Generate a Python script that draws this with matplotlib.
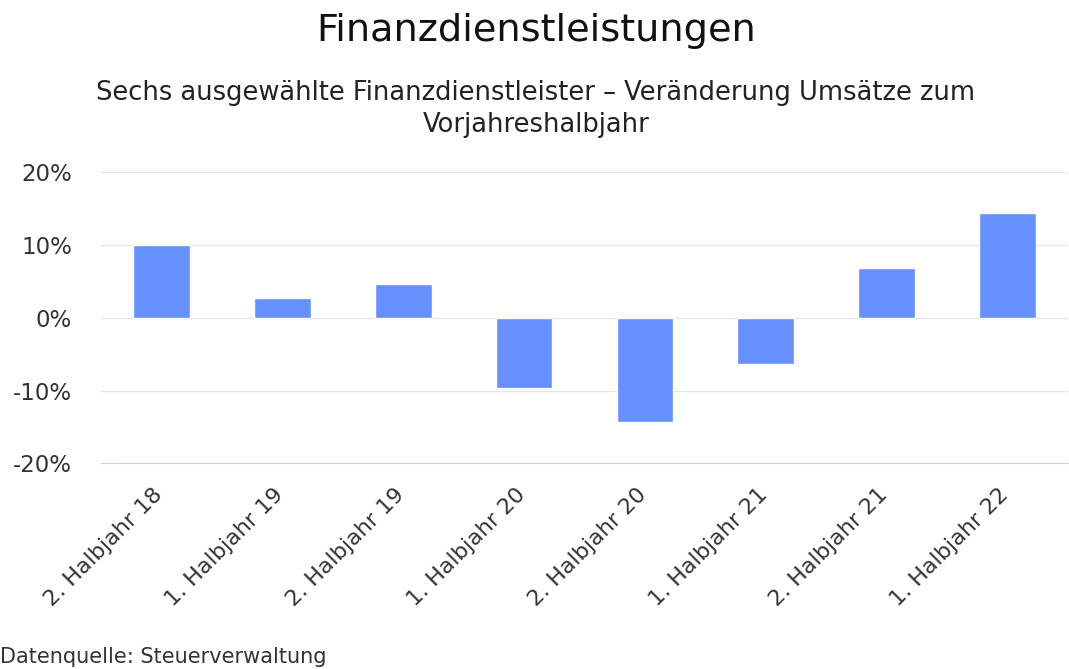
import matplotlib
matplotlib.use("Agg")
import matplotlib.pyplot as plt
from matplotlib.ticker import FuncFormatter
import matplotlib.transforms as mtransforms

categories = ["2. Halbjahr 18", "1. Halbjahr 19", "2. Halbjahr 19", "1. Halbjahr 20",
              "2. Halbjahr 20", "1. Halbjahr 21", "2. Halbjahr 21", "1. Halbjahr 22"]
values = [10.0, 2.7, 4.7, -9.7, -14.3, -6.4, 6.9, 14.4]
yticks = [-20, -10, 0, 10, 20]

plt.rcParams['font.family'] = ['DejaVu Sans']
fig = plt.figure(figsize=(10.69, 6.69), dpi=100)
ax = fig.add_axes([101/1069, 1-463.3/669, 967/1069, (463.3-172.3)/669])

x = list(range(len(categories)))
ax.bar(x, values, width=0.47, color="#6690ff", edgecolor="white", linewidth=1, zorder=3)
ax.set_xlim(-0.5, len(categories)-0.5)
ax.set_ylim(-20, 20)
ax.set_yticks(yticks)
ax.yaxis.set_major_formatter(FuncFormatter(lambda v, p: f"{int(v)}%"))
ax.grid(axis='y', color='#e6e6e6', linewidth=1, zorder=0)
for s in ['top', 'right', 'left']:
    ax.spines[s].set_visible(False)
ax.spines['bottom'].set_color('#ccd6eb')
ax.spines['bottom'].set_zorder(4)
ax.tick_params(axis='y', length=0, labelsize=16.5, labelcolor='#333333', pad=21)
ax.tick_params(axis='x', length=0, labelsize=16, labelcolor='#333333', pad=15)
ax.set_xticks(x)
ax.set_xticklabels(categories, rotation=45, ha='right', rotation_mode='anchor')
offset = mtransforms.ScaledTranslation(-9/100, 0, fig.dpi_scale_trans)
for lbl in ax.get_xticklabels():
    lbl.set_transform(lbl.get_transform() + offset)

fig.text(536/1069, 1-31/669, "Finanzdienstleistungen", ha='center', va='center',
         fontsize=27.5, color='#111111')
fig.text(536/1069, 1-109/669, "Sechs ausgewählte Finanzdienstleister – Veränderung Umsätze zum\nVorjahreshalbjahr",
         ha='center', va='center', fontsize=18.5, color='#222222', linespacing=1.25)
fig.text(0, 1-657/669, "Datenquelle: Steuerverwaltung", ha='left', va='center',
         fontsize=15, color='#333333')

fig.savefig("out.png", dpi=100)
